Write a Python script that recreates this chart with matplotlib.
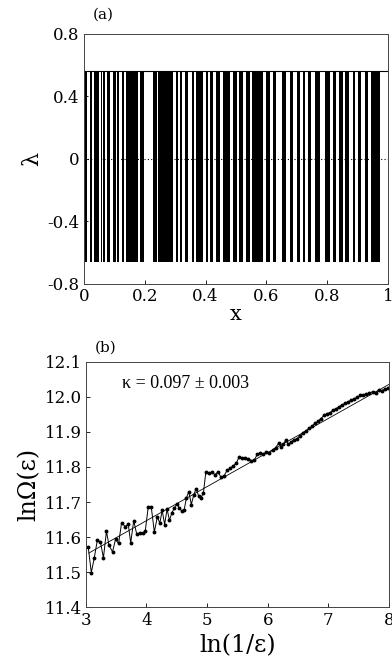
import numpy as np
import matplotlib
matplotlib.use('Agg')
import matplotlib.pyplot as plt
from matplotlib.ticker import FixedLocator, FixedFormatter

# panel (a): x intervals covered by the lambda bands
band_start = [0.000, 0.020, 0.034, 0.056, 0.064, 0.077, 0.096, 0.110, 0.124, 0.138,
              0.184, 0.228, 0.243, 0.304, 0.315, 0.333, 0.354, 0.370, 0.403, 0.414,
              0.434, 0.456, 0.491, 0.510, 0.532, 0.554, 0.600, 0.622, 0.650, 0.677,
              0.699, 0.721, 0.737, 0.759, 0.792, 0.819, 0.839, 0.858, 0.885, 0.901,
              0.923, 0.945]
band_end = [0.011, 0.026, 0.050, 0.059, 0.070, 0.085, 0.104, 0.116, 0.131, 0.179,
            0.197, 0.239, 0.294, 0.311, 0.324, 0.343, 0.363, 0.392, 0.409, 0.425,
            0.447, 0.480, 0.502, 0.524, 0.545, 0.589, 0.613, 0.633, 0.666, 0.688,
            0.710, 0.726, 0.748, 0.775, 0.808, 0.830, 0.852, 0.872, 0.890, 0.912,
            0.934, 0.973]
lam_top = 0.56
lam_bottom = -0.66

# panel (b): ln Omega vs ln(1/eps)
ln_inv_eps = [3.04, 3.09, 3.14, 3.19, 3.24, 3.29, 3.34, 3.38, 3.44, 3.49, 3.54, 3.59,
              3.65, 3.70, 3.74, 3.79, 3.84, 3.89, 3.94, 3.98, 4.03, 4.08, 4.13, 4.18,
              4.22, 4.26, 4.30, 4.34, 4.38, 4.42, 4.46, 4.50, 4.54, 4.58, 4.62, 4.66,
              4.70, 4.74, 4.78, 4.82, 4.86, 4.90, 4.94, 4.98, 5.03, 5.08, 5.13, 5.18,
              5.23, 5.28, 5.33, 5.38, 5.43, 5.48, 5.53, 5.58, 5.63, 5.68, 5.73, 5.78,
              5.83, 5.88, 5.93, 5.98, 6.03, 6.08, 6.13, 6.18, 6.22, 6.26, 6.30, 6.34,
              6.38, 6.43, 6.48, 6.53, 6.58, 6.63, 6.68, 6.73, 6.78, 6.83, 6.88, 6.93,
              6.98, 7.03, 7.08, 7.13, 7.18, 7.23, 7.28, 7.33, 7.38, 7.43, 7.48, 7.53,
              7.58, 7.63, 7.68, 7.73, 7.78, 7.83, 7.88, 7.93, 7.99]
ln_omega = [11.571, 11.499, 11.542, 11.592, 11.587, 11.541, 11.617, 11.578, 11.558, 11.594,
            11.582, 11.641, 11.630, 11.637, 11.584, 11.647, 11.608, 11.613, 11.611, 11.617,
            11.687, 11.685, 11.615, 11.658, 11.640, 11.676, 11.636, 11.680, 11.648, 11.670,
            11.682, 11.695, 11.684, 11.675, 11.676, 11.712, 11.730, 11.693, 11.720, 11.738,
            11.718, 11.712, 11.726, 11.786, 11.782, 11.786, 11.778, 11.786, 11.771, 11.775,
            11.790, 11.796, 11.803, 11.810, 11.829, 11.826, 11.825, 11.823, 11.818, 11.820,
            11.836, 11.839, 11.838, 11.842, 11.840, 11.848, 11.855, 11.867, 11.858, 11.866,
            11.876, 11.866, 11.870, 11.877, 11.880, 11.888, 11.898, 11.902, 11.910, 11.916,
            11.924, 11.930, 11.938, 11.947, 11.952, 11.955, 11.962, 11.966, 11.972, 11.977,
            11.981, 11.986, 11.990, 11.995, 11.998, 12.004, 12.006, 12.008, 12.011, 12.014,
            12.012, 12.018, 12.017, 12.022, 12.024]
kappa = 0.097
kappa_err = 0.003
fit_intercept = 11.259
fit_range = [3.05, 8.0]

serif = 'DejaVu Serif'
fig = plt.figure(figsize=(3.92, 6.66), dpi=100)

# ---- (a)
ax = fig.add_axes([0.214, 0.574, 0.776, 0.375])
widths = np.array(band_end) - np.array(band_start)
ax.bar(band_start, lam_top - lam_bottom, width=widths, bottom=lam_bottom,
       align='edge', color='black', linewidth=0)
ax.axhline(lam_top, color='black', lw=0.8)
ax.axhline(0, color='black', lw=0.8, ls=(0, (1, 2)))
ax.set_xlim(0, 1)
ax.set_ylim(-0.8, 0.8)
ax.xaxis.set_major_locator(FixedLocator([0, 0.2, 0.4, 0.6, 0.8, 1.0]))
ax.xaxis.set_major_formatter(FixedFormatter(['0', '0.2', '0.4', '0.6', '0.8', '1']))
ax.yaxis.set_major_locator(FixedLocator([-0.8, -0.4, 0, 0.4, 0.8]))
ax.yaxis.set_major_formatter(FixedFormatter(['-0.8', '-0.4', '0', '0.4', '0.8']))
ax.set_xlabel('x', family=serif, fontsize=15, labelpad=0)
ax.set_ylabel('λ', family=serif, fontsize=16, labelpad=3)
ax.text(0.03, 1.06, '(a)', transform=ax.transAxes, family=serif, fontsize=11)

# ---- (b)
ax2 = fig.add_axes([0.219, 0.088, 0.773, 0.369])
ax2.plot(ln_inv_eps, ln_omega, '-', color='black', lw=0.7, marker='o', ms=1.8)
fx = np.array(fit_range)
ax2.plot(fx, fit_intercept + kappa * fx, '-', color='black', lw=0.6)
ax2.set_xlim(3, 8)
ax2.set_ylim(11.4, 12.1)
ax2.xaxis.set_major_locator(FixedLocator([3, 4, 5, 6, 7, 8]))
ax2.yaxis.set_major_locator(FixedLocator([11.4, 11.5, 11.6, 11.7, 11.8, 11.9, 12.0, 12.1]))
ax2.yaxis.set_major_formatter(FixedFormatter(['11.4', '11.5', '11.6', '11.7', '11.8',
                                              '11.9', '12.0', '12.1']))
ax2.set_xlabel('ln(1/ε)', family=serif, fontsize=17, labelpad=4)
ax2.set_ylabel('lnΩ(ε)', family=serif, fontsize=17, labelpad=3)
ax2.text(3.6, 12.025, 'κ = %.3f ± %.3f' % (kappa, kappa_err), family='Liberation Serif',
         fontsize=13)
ax2.text(0.03, 1.04, '(b)', transform=ax2.transAxes, family=serif, fontsize=11)

for a in (ax, ax2):
    a.tick_params(direction='in', length=3, width=0.6, labelsize=12, pad=3)
    for lab in a.get_xticklabels() + a.get_yticklabels():
        lab.set_family(serif)
    for s in a.spines.values():
        s.set_linewidth(0.7)
        s.set_color('#444444')

fig.savefig('out.png', dpi=100)
